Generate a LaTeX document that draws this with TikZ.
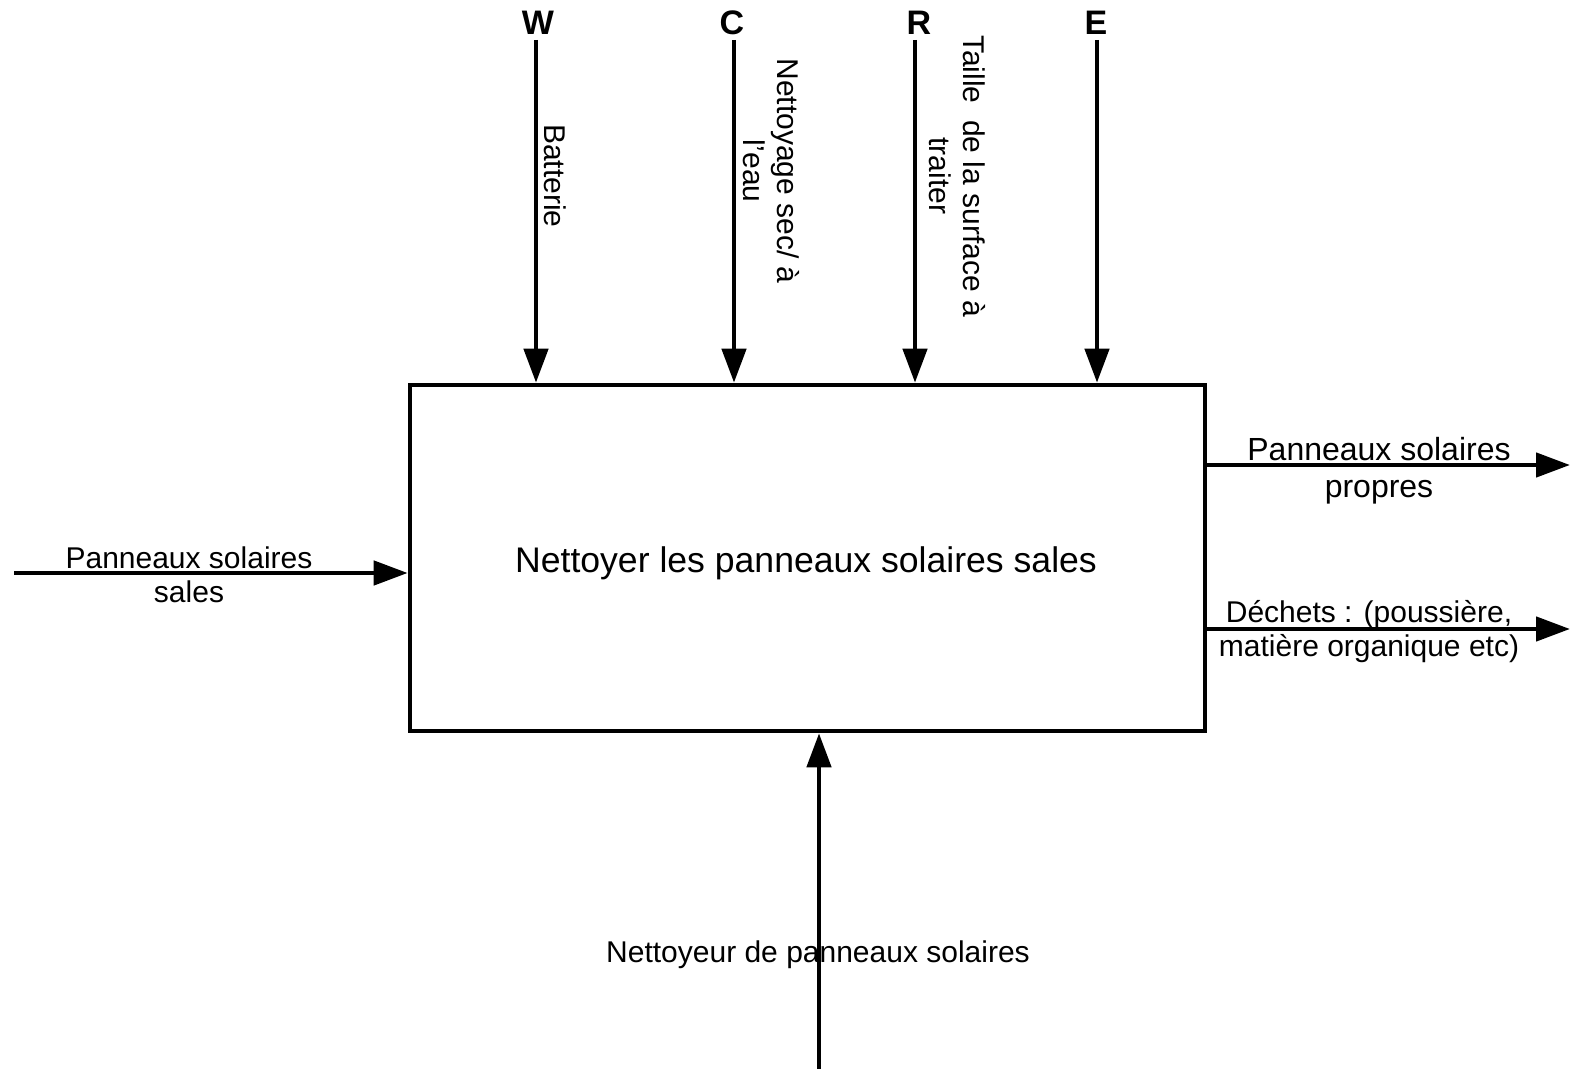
\documentclass[tikz,border=0pt]{standalone}
\usepackage{fontspec}
\setmainfont{Liberation Sans}
\usetikzlibrary{arrows.meta}
\begin{document}
\begin{tikzpicture}[x=0.5pt,y=-0.5pt,
  flow/.style={line width=2.3pt,-{Triangle[length=17pt,width=12pt]}},
  lbl/.style={font=\fontsize{15}{17}\selectfont,align=center,inner sep=0pt},
  vlbl/.style={lbl,rotate=-90},
  icom/.style={font=\fontsize{17}{20}\selectfont\bfseries,inner sep=0pt}]
\useasboundingbox (0,0) rectangle (1570,1069);

% activity box
\node[draw,line width=2.3pt,minimum width=397.5pt,minimum height=173pt,inner sep=0pt] (box) at (807.5,558) {};
\node[font=\fontsize{17.8}{21}\selectfont,inner sep=0pt] (title) at (806,563) {Nettoyer les panneaux solaires sales};

% controls entering from the top
\node[icom] (W) at (538,23) {W};
\node[icom] (C) at (732,23) {C};
\node[icom] (R) at (919,23) {R};
\node[icom] (E) at (1096,23) {E};
\coordinate (wS) at (536,40);
\coordinate (cS) at (734,40);
\coordinate (rS) at (915,40);
\coordinate (eS) at (1097,40);
\draw[flow] (wS) -- (wS |- box.north);
\draw[flow] (cS) -- (cS |- box.north);
\draw[flow] (rS) -- (rS |- box.north);
\draw[flow] (eS) -- (eS |- box.north);
\node[vlbl] (wL) at (555,176) {Batterie};
\node[vlbl] (cL) at (771,171) {Nettoyage sec/ à\\l'eau};
\node[vlbl] (rL) at (957,176) {Taille\ \ de la surface à\\traiter};

% input
\coordinate (inS) at (14,573);
\draw[flow] (inS) -- (inS -| box.west);
\node[lbl] (inL) at (189,575) {Panneaux solaires\\sales};

% outputs
\coordinate (o1) at (1570,465);
\coordinate (o2) at (1570,629);
\draw[flow] (o1 -| box.east) -- (o1);
\draw[flow] (o2 -| box.east) -- (o2);
\node[lbl,font=\fontsize{16}{18.5}\selectfont] (o1L) at (1379,471) {Panneaux solaires\\propres};
\node[lbl] (o2L) at (1369,632) {Déchets : (poussière,\\matière organique etc)};

% mechanism from below (label drawn first, arrow over it)
\node[lbl] (mL) at (818,955) {Nettoyeur de panneaux solaires};
\coordinate (mS) at (819,1069);
\draw[flow] (mS) -- (mS |- box.south);
\end{tikzpicture}
\end{document}
